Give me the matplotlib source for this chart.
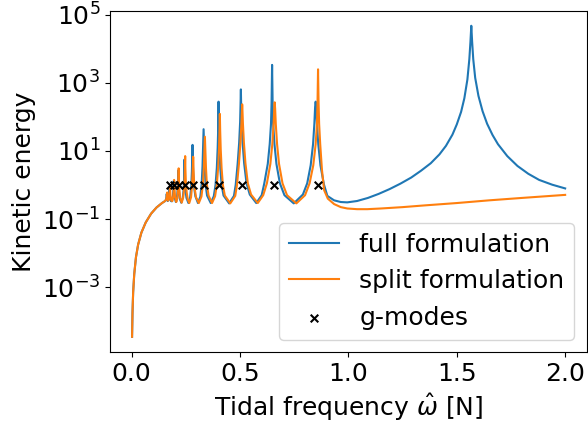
"""Kinetic energy vs tidal frequency: full vs split formulation, with g-mode positions."""
import numpy as np
import matplotlib
matplotlib.use("Agg")
import matplotlib.pyplot as plt
from matplotlib.ticker import NullLocator

# (omega_hat, log10 kinetic energy)
full_points = [
    (0.002, -4.46), (0.004, -3.75), (0.007, -3.15), (0.012, -2.62), (0.020, -2.12),
    (0.030, -1.75), (0.045, -1.40), (0.065, -1.10), (0.090, -0.84), (0.115, -0.66),
    (0.140, -0.53), (0.152, -0.48), (0.158, -0.44), (0.161, -0.36), (0.162, -0.26),
    (0.163, -0.38), (0.166, -0.47), (0.170, -0.44), (0.173, -0.30), (0.175, -0.05),
    (0.177, -0.32), (0.181, -0.47), (0.186, -0.48), (0.190, -0.36), (0.193, -0.10),
    (0.194, 0.12), (0.195, -0.08), (0.198, -0.36), (0.204, -0.50), (0.209, -0.40),
    (0.212, -0.15), (0.214, 0.15), (0.215, 0.42), (0.216, 0.12), (0.218, -0.15),
    (0.222, -0.40), (0.229, -0.52), (0.236, -0.38), (0.240, -0.12), (0.242, 0.20),
    (0.244, 0.75), (0.246, 0.18), (0.248, -0.12), (0.253, -0.38), (0.262, -0.53),
    (0.270, -0.36), (0.275, -0.05), (0.278, 0.40), (0.280, 0.88), (0.281, 1.18),
    (0.282, 0.88), (0.284, 0.40), (0.288, -0.05), (0.294, -0.33), (0.306, -0.53),
    (0.317, -0.34), (0.323, 0.02), (0.327, 0.55), (0.3295, 1.05), (0.332, 1.64),
    (0.3345, 1.05), (0.337, 0.55), (0.341, 0.02), (0.348, -0.31), (0.365, -0.53),
    (0.379, -0.33), (0.387, 0.00), (0.393, 0.50), (0.397, 1.10), (0.3995, 1.70),
    (0.401, 2.45), (0.4025, 1.70), (0.405, 1.10), (0.409, 0.50), (0.415, 0.00),
    (0.424, -0.31), (0.450, -0.54), (0.472, -0.32), (0.480, 0.00), (0.489, 0.62),
    (0.496, 1.24), (0.5005, 1.85), (0.503, 2.45), (0.504, 2.81), (0.505, 2.45),
    (0.5075, 1.85), (0.512, 1.24), (0.519, 0.64), (0.530, 0.05), (0.545, -0.28),
    (0.575, -0.53), (0.600, -0.30), (0.612, 0.05), (0.628, 0.62), (0.637, 1.20),
    (0.643, 1.80), (0.6455, 2.40), (0.647, 3.00), (0.648, 3.53), (0.649, 3.00),
    (0.6505, 2.40), (0.653, 1.80), (0.659, 1.20), (0.668, 0.62), (0.684, 0.05),
    (0.705, -0.30), (0.748, -0.54), (0.790, -0.28), (0.810, 0.05), (0.826, 0.58),
    (0.837, 1.20), (0.843, 1.80), (0.8465, 2.30), (0.849, 2.45), (0.8515, 2.30),
    (0.855, 1.80), (0.861, 1.20), (0.871, 0.58), (0.887, 0.02), (0.903, -0.32),
    (0.934, -0.45), (0.965, -0.50), (0.995, -0.51), (1.040, -0.47), (1.090, -0.38),
    (1.140, -0.26), (1.190, -0.12), (1.240, 0.04), (1.290, 0.22), (1.335, 0.42),
    (1.380, 0.64), (1.420, 0.90), (1.450, 1.15), (1.480, 1.48), (1.500, 1.78),
    (1.520, 2.15), (1.535, 2.55), (1.549, 3.10), (1.558, 3.70), (1.563, 4.20),
    (1.567, 4.68), (1.571, 4.20), (1.576, 3.70), (1.585, 3.15), (1.600, 2.62),
    (1.619, 2.17), (1.640, 1.80), (1.665, 1.47), (1.690, 1.20), (1.733, 0.85),
    (1.780, 0.56), (1.830, 0.33), (1.880, 0.15), (1.940, 0.01), (2.000, -0.10),
]

split_points = [
    (0.002, -4.46), (0.004, -3.75), (0.007, -3.15), (0.012, -2.62), (0.020, -2.12),
    (0.030, -1.75), (0.045, -1.40), (0.065, -1.10), (0.090, -0.84), (0.115, -0.66),
    (0.140, -0.53), (0.152, -0.48), (0.158, -0.44), (0.161, -0.38), (0.163, -0.28),
    (0.164, -0.22), (0.165, -0.34), (0.168, -0.46), (0.172, -0.42), (0.175, -0.25),
    (0.177, -0.02), (0.179, -0.30), (0.183, -0.46), (0.188, -0.47), (0.192, -0.33),
    (0.195, -0.05), (0.196, 0.15), (0.197, -0.05), (0.200, -0.34), (0.206, -0.50),
    (0.211, -0.38), (0.214, -0.12), (0.216, 0.18), (0.217, 0.49), (0.218, 0.16),
    (0.220, -0.12), (0.224, -0.38), (0.231, -0.52), (0.238, -0.36), (0.243, -0.05),
    (0.245, 0.28), (0.246, 0.58), (0.247, 0.85), (0.248, 0.50), (0.250, 0.10),
    (0.254, -0.22), (0.259, -0.42), (0.266, -0.53), (0.274, -0.36), (0.278, -0.08),
    (0.281, 0.28), (0.283, 0.58), (0.284, 0.83), (0.285, 0.55), (0.287, 0.20),
    (0.291, -0.10), (0.297, -0.36), (0.310, -0.53), (0.322, -0.34), (0.329, 0.02),
    (0.333, 0.50), (0.3355, 0.95), (0.338, 1.42), (0.3405, 0.95), (0.343, 0.50),
    (0.347, 0.02), (0.355, -0.31), (0.371, -0.53), (0.385, -0.33), (0.393, 0.00),
    (0.399, 0.50), (0.403, 1.05), (0.4055, 1.60), (0.407, 2.09), (0.4085, 1.60),
    (0.411, 1.05), (0.415, 0.50), (0.421, 0.00), (0.430, -0.31), (0.455, -0.54),
    (0.478, -0.32), (0.486, 0.00), (0.495, 0.62), (0.502, 1.24), (0.5065, 1.80),
    (0.5088, 2.20), (0.510, 2.37), (0.5112, 2.20), (0.5135, 1.80), (0.518, 1.24),
    (0.525, 0.64), (0.536, 0.05), (0.551, -0.28), (0.582, -0.53), (0.607, -0.30),
    (0.624, 0.05), (0.640, 0.62), (0.649, 1.20), (0.655, 1.80), (0.658, 2.25),
    (0.660, 2.43), (0.662, 2.25), (0.665, 1.80), (0.671, 1.20), (0.680, 0.62),
    (0.696, 0.05), (0.717, -0.30), (0.760, -0.54), (0.800, -0.30), (0.821, 0.05),
    (0.838, 0.58), (0.849, 1.20), (0.855, 1.80), (0.8575, 2.40), (0.859, 3.00),
    (0.860, 3.40), (0.861, 3.00), (0.8625, 2.40), (0.865, 1.80), (0.870, 1.20),
    (0.878, 0.45), (0.888, -0.15), (0.905, -0.40), (0.934, -0.56), (0.965, -0.65),
    (0.995, -0.69), (1.040, -0.71), (1.087, -0.71), (1.150, -0.69), (1.250, -0.65),
    (1.350, -0.60), (1.500, -0.53), (1.650, -0.45), (1.800, -0.38), (2.000, -0.29),
]

gmode_w = [0.178, 0.196, 0.219, 0.248, 0.285, 0.336, 0.405, 0.508, 0.659, 0.859]
gmode_e = [1.0] * len(gmode_w)

full_w, full_log = np.array(full_points).T
split_w, split_log = np.array(split_points).T

fig = plt.figure(figsize=(5.88, 4.32), dpi=100)
ax = fig.add_axes([0.187, 0.185, 0.811, 0.79])

ax.plot(full_w, 10.0 ** full_log, color="#1f77b4", linewidth=1.5, label="full formulation")
ax.plot(split_w, 10.0 ** split_log, color="#ff7f0e", linewidth=1.5, label="split formulation")
ax.scatter(gmode_w, gmode_e, marker="x", color="black", s=30, linewidths=1.5,
           zorder=3, label="g-modes")

ax.set_yscale("log")
ax.set_xlim(-0.1, 2.1)
ax.set_ylim(10 ** -4.91, 10 ** 5.12)
ax.set_yticks([1e-3, 1e-1, 1e1, 1e3, 1e5])
ax.yaxis.set_minor_locator(NullLocator())
ax.set_xticks([0.0, 0.5, 1.0, 1.5, 2.0])

ax.tick_params(labelsize=18)
ax.set_xlabel(r"Tidal frequency $\hat{\omega}$ [N]", fontsize=18)
ax.set_ylabel("Kinetic energy", fontsize=18)
ax.legend(loc="lower right", fontsize=18)

fig.savefig("out.png", dpi=100)
